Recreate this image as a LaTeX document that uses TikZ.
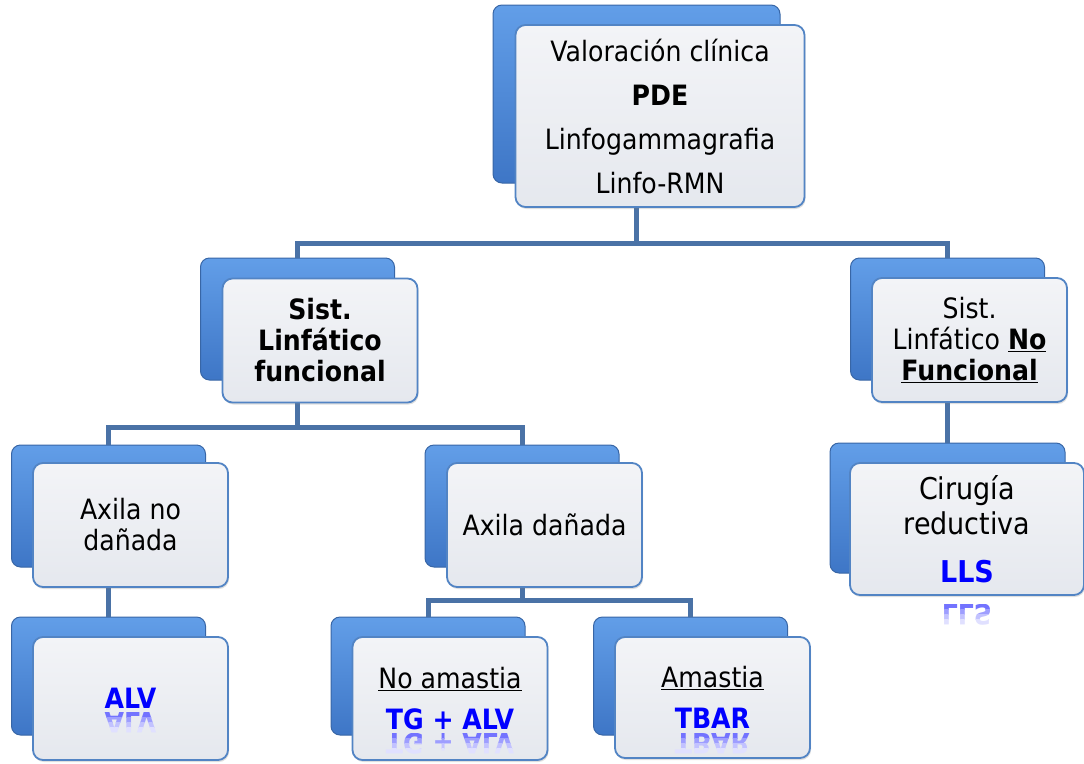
\documentclass[tikz,border=0pt]{standalone}
\usepackage{fontspec}
\setmainfont{DejaVu Sans}[FakeStretch=0.9]
\usetikzlibrary{shadows}

\definecolor{connblue}{RGB}{74,114,166}
\definecolor{backtop}{RGB}{98,158,232}
\definecolor{backbot}{RGB}{62,118,198}
\definecolor{backedge}{RGB}{56,102,166}
\definecolor{frontedge}{RGB}{82,132,196}
\definecolor{fronttop}{RGB}{243,244,247}
\definecolor{frontbot}{RGB}{229,232,238}
\definecolor{hiblue}{RGB}{0,0,255}

\tikzstyle{back} = [rectangle, rounded corners=9pt, minimum width=194pt, minimum height=122pt, top color=backtop, bottom color=backbot, draw=backedge, line width=1pt, outer sep=0pt]
\tikzstyle{front} = [rectangle, rounded corners=10pt, minimum width=195pt, minimum height=124pt, top color=fronttop, bottom color=frontbot, draw=frontedge, line width=1.8pt, align=center, font=\fontsize{28}{31}\selectfont, drop shadow={opacity=0.25, shadow xshift=1pt, shadow yshift=-2pt}]
\tikzstyle{conn} = [connblue, line width=5pt]
\tikzstyle{refl} = [font=\fontsize{28}{31}\selectfont\bfseries, inner sep=0pt, anchor=north]

\newcommand{\mirrortext}[4]{%
  \foreach \k/\c in {0/55,1/38,2/24,3/12} {
    \begin{scope}
      \clip (#2-90,#3+\k*5) rectangle (#2+90,#3+\k*5+5);
      \node (#1\k) [refl, text=hiblue!\c] at (#2,#3) {\scalebox{1}[-1]{#4}};
    \end{scope}
  }%
}

\begin{document}
\begin{tikzpicture}[x=1pt, y=-1pt]

\useasboundingbox (0,0) rectangle (1084,763);

\node (valoracionb) [back, minimum width=287pt, minimum height=178pt] at (636.5,94) {};

\node (funcionalb) [back] at (297.5,319) {};

\node (nofuncionalb) [back] at (947.5,319) {};

\node (nodanadab) [back] at (108.5,506) {};

\node (danadab) [back] at (522,506) {};

\node (cirugiab) [back, minimum width=235pt, minimum height=130pt] at (947.5,508) {};

\node (alvb) [back, minimum height=118pt] at (108.5,676) {};

\node (noamastiab) [back, minimum height=118pt] at (428,676) {};

\node (amastiab) [back, minimum height=118pt] at (690.5,676) {};

\draw[conn] (valoracionb.south) -- ++(0,60) -| (funcionalb.north);
\draw[conn] (valoracionb.south) -- ++(0,60) -| (nofuncionalb.north);
\draw[conn] (funcionalb.south) -- ++(0,47) -| (nodanadab.north);
\draw[conn] (funcionalb.south) -- ++(0,47) -| (danadab.north);
\draw[conn] (nodanadab.south) -- (alvb.north);
\draw[conn] (danadab.south) -- ++(0,33) -| (noamastiab.north);
\draw[conn] (danadab.south) -- ++(0,33) -| (amastiab.north);
\draw[conn] (nofuncionalb.south) -- (cirugiab.north);

\node (valoracion) [front, minimum width=289pt, minimum height=182pt, xshift = 23.5pt, yshift = -22pt] at (valoracionb) {Valoración clínica\\[13pt]\textbf{PDE}\\[13pt]Linfogammagrafia\\[13pt]Linfo-RMN};

\node (funcional) [front, xshift = 22.5pt, yshift = -21.5pt] at (funcionalb) {\textbf{Sist.}\\\textbf{Linfático}\\\textbf{funcional}};

\node (nofuncional) [front, xshift = 22pt, yshift = -21pt] at (nofuncionalb) {Sist.\\Linfático \underline{\textbf{No}}\\\underline{\textbf{Funcional}}};

\node (nodanada) [front, xshift = 22pt, yshift = -19pt] at (nodanadab) {Axila no\\dañada};

\node (danada) [front, xshift = 22.5pt, yshift = -19pt] at (danadab) {Axila dañada};

\node (cirugia) [front, minimum width=234pt, minimum height=132pt, font=\fontsize{30}{35}\selectfont, xshift = 19.5pt, yshift = -21pt] at (cirugiab) {Cirugía\\reductiva\\[13pt]\textcolor{hiblue}{\textbf{LLS}}};

\node (alv) [front, minimum height=123pt, xshift = 22pt, yshift = -22.5pt] at (alvb) {\textcolor{hiblue}{\textbf{ALV}}};

\node (noamastia) [front, minimum height=123pt, xshift = 22pt, yshift = -22.5pt] at (noamastiab) {\underline{No amastia}\\[10pt]\textcolor{hiblue}{\textbf{TG + ALV}}};

\node (amastia) [front, minimum height=121pt, xshift = 22pt, yshift = -21.5pt] at (amastiab) {\underline{Amastia}\\[10pt]\textcolor{hiblue}{\textbf{TBAR}}};

\mirrortext{alvrefl}{130.5}{712}{ALV}
\mirrortext{noamastiarefl}{450}{733}{TG + ALV}
\mirrortext{amastiarefl}{712.5}{733}{TBAR}
\mirrortext{cirugiarefl}{967}{604}{LLS}

\end{tikzpicture}
\end{document}
